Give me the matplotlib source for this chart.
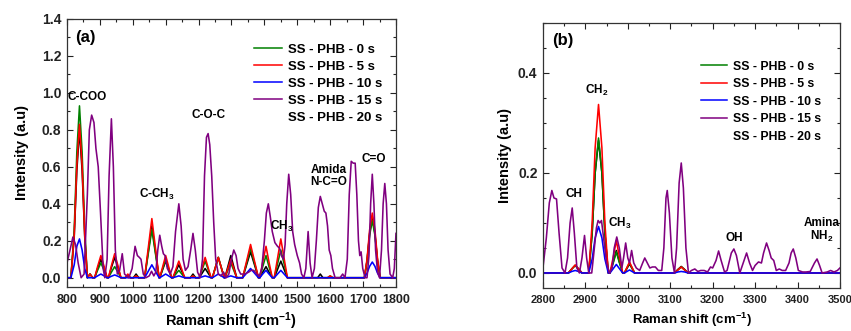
import matplotlib
matplotlib.use("Agg")
from matplotlib import pyplot as plt
from matplotlib.lines import Line2D
from matplotlib.ticker import MultipleLocator


# ---- panel (a): 800-1800 cm-1 ----
SHIFT_A = [
    800,
    812, 822, 830, 838, 846, 854, 862,
    870, 878,
    884, 893, 903, 913, 922,
    926, 935, 945, 955, 964,
    977, 985, 993,
    1002, 1010, 1018,
    1036, 1047, 1058, 1069, 1080,
    1082, 1091, 1100, 1109, 1118,
    1122, 1131, 1140, 1149, 1158,
    1175, 1183, 1191,
    1202, 1211, 1220, 1229, 1238,
    1242, 1251, 1260, 1269, 1278,
    1280, 1289, 1298, 1307, 1316,
    1334, 1346, 1358, 1370, 1382,
    1386, 1395, 1405, 1414, 1424,
    1430, 1440, 1450, 1460, 1470,
    1562, 1570, 1578,
    1592, 1600, 1608,
    1704, 1712, 1720, 1728, 1736, 1744, 1752,
    1800,
]
SS_0S_A = [
    0,
    0, .26, .68, .93, .68, .26, 0,
    .02, 0,
    0, .04, .08, .04, 0,
    0, .03, .06, .03, 0,
    0, .01, 0,
    0, .01, 0,
    0, .13, .26, .13, 0,
    0, .05, .10, .05, 0,
    0, .02, .04, .02, 0,
    0, .01, 0,
    0, .045, .09, .045, 0,
    0, .055, .11, .055, 0,
    0, .04, .08, .04, 0,
    0, .08, .16, .08, 0,
    0, .06, .12, .06, 0,
    0, .075, .15, .075, 0,
    0, 0, 0,
    0, .01, 0,
    0, .09, .23, .31, .23, .09, 0,
    0,
]
SS_5S_A = [
    0,
    0, .23, .61, .83, .61, .23, 0,
    .02, 0,
    0, .06, .12, .06, 0,
    0, .065, .13, .065, 0,
    0, .02, 0,
    0, .01, 0,
    0, .16, .32, .16, 0,
    0, .06, .12, .06, 0,
    0, .045, .09, .045, 0,
    0, .01, 0,
    0, .055, .11, .055, 0,
    0, .055, .11, .055, 0,
    0, .05, .10, .05, 0,
    0, .09, .18, .09, 0,
    0, .085, .17, .085, 0,
    0, .105, .21, .105, 0,
    0, 0, 0,
    0, .01, 0,
    0, .10, .26, .35, .26, .10, 0,
    0,
]
SS_10S_A = [
    0,
    0, .07, .17, .21, .15, .05, 0,
    0, 0,
    0, .01, .02, .01, 0,
    0, .008, .015, .008, 0,
    0, 0, 0,
    0, 0, 0,
    0, .035, .07, .035, 0,
    0, .01, .02, .01, 0,
    0, .005, .01, .005, 0,
    0, 0, 0,
    0, .005, .01, .005, 0,
    0, .01, .02, .01, 0,
    0, .005, .01, .005, 0,
    0, .025, .05, .025, 0,
    0, .02, .04, .02, 0,
    0, .02, .04, .02, 0,
    0, 0, 0,
    0, 0, 0,
    0, .025, .062, .085, .062, .025, 0,
    0,
]
SS_20S_A = [
    0,
    0, .22, .58, .80, .58, .22, 0,
    .02, 0,
    0, .05, .10, .05, 0,
    0, .055, .11, .055, 0,
    0, .01, 0,
    0, .02, 0,
    0, .14, .28, .14, 0,
    0, .045, .09, .045, 0,
    0, .035, .07, .035, 0,
    0, .02, 0,
    0, .025, .05, .025, 0,
    0, .055, .11, .055, 0,
    0, .06, .12, .06, 0,
    0, .07, .14, .07, 0,
    0, .03, .06, .03, 0,
    0, .045, .09, .045, 0,
    0, .02, 0,
    0, 0, 0,
    0, .09, .24, .33, .24, .09, 0,
    0,
]
SHIFT_15S_A = [
    800, 808, 818, 826, 834, 843, 852, 862, 868, 875, 882, 888, 895, 902, 910,
    915, 922, 928, 935, 941, 947, 953, 960, 968, 975, 988, 998, 1007, 1014, 1020,
    1025, 1032, 1040, 1050, 1057, 1064, 1070, 1076, 1082, 1088, 1093, 1098, 1105,
    1114, 1122, 1130, 1140, 1147, 1153, 1160, 1168, 1176, 1183, 1190, 1197, 1205,
    1212, 1218, 1224, 1229, 1234, 1240, 1246, 1252, 1260, 1268, 1276, 1284, 1292,
    1300, 1307, 1314, 1320, 1328, 1340, 1352, 1360, 1368, 1376, 1385, 1392, 1400,
    1406, 1412, 1418, 1424, 1432, 1440, 1446, 1452, 1458, 1463, 1468, 1474, 1480,
    1486, 1492, 1500, 1507, 1513, 1520, 1526, 1533, 1539, 1545, 1552, 1558, 1564,
    1570, 1576, 1582, 1587, 1592, 1597, 1602, 1607, 1615, 1630, 1638, 1645, 1652,
    1658, 1664, 1670, 1676, 1681, 1686, 1690, 1694, 1699, 1706, 1712, 1718, 1723,
    1728, 1733, 1738, 1744, 1750, 1756, 1761, 1766, 1771, 1776, 1782, 1790, 1795,
    1800,
]
SS_15S_A = [
    .08, .14, .22, .18, .08, 0, .02, .45, .80, .88, .84, .70, .60, .35, .05,
    0, .10, .55, .86, .60, .15, .02, .04, .13, .02, 0, .05, .17, .12, .11,
    .10, .02, 0, .01, .035, .01, .03, .15, .23, .17, .13, .12, .05,
    .02, .06, .25, .40, .28, .10, .04, .06, .15, .24, .15, .03, 0,
    .10, .55, .76, .78, .72, .55, .30, .10, .02, .01, .03, 0, .02,
    .10, .15, .12, .05, .02, .02, .03, .04, .04, .02, .01, .05, .20,
    .35, .40, .33, .25, .19, .17, .16, .12, .10, .18, .40, .56, .45,
    .25, .18, .12, .08, .02, 0, .05, .25, .08, 0, .05, .20, .38,
    .44, .40, .36, .35, .28, .15, .12, .05, 0, 0, .02, 0, .10,
    .45, .63, .62, .62, .45, .20, .12, .14, .05, 0, 0, .12, .40,
    .56, .40, .15, .03, 0, .15, .40, .51, .40, .15, .02, 0, .05,
    .24,
]

# ---- panel (b): 2800-3500 cm-1 ----
SHIFT_B = [
    2800,
    2860, 2868, 2876, 2884, 2892,
    2908, 2916, 2923, 2931, 2939, 2946, 2954,
    2958, 2966, 2973, 2980, 2988,
    2992, 2998, 3004, 3010, 3016,
    3110, 3118, 3126, 3134, 3142,
    3500,
]
SS_0S_B = [
    0,
    0, .008, .015, .008, 0,
    0, .08, .20, .27, .20, .08, 0,
    0, .021, .042, .021, 0,
    0, .01, .02, .01, 0,
    0, .006, .012, .006, 0,
    0,
]
SS_5S_B = [
    0,
    0, .008, .016, .008, 0,
    0, .10, .25, .337, .25, .10, 0,
    0, .033, .065, .033, 0,
    0, .011, .022, .011, 0,
    0, .006, .012, .006, 0,
    0,
]
SS_10S_B = [
    0,
    0, .003, .005, .003, 0,
    0, .028, .07, .093, .07, .028, 0,
    0, .009, .017, .009, 0,
    0, .003, .006, .003, 0,
    0, .002, .003, .002, 0,
    0,
]
SS_20S_B = [
    0,
    0, .008, .015, .008, 0,
    0, .08, .20, .265, .20, .08, 0,
    0, .023, .045, .023, 0,
    0, .009, .018, .009, 0,
    0, .007, .013, .007, 0,
    0,
]
SHIFT_15S_B = [
    2800, 2808, 2815, 2821, 2826, 2832, 2838, 2845, 2852, 2858, 2864, 2869, 2874,
    2880, 2886, 2892, 2898, 2903, 2908, 2915, 2920, 2926, 2930, 2934, 2938, 2943,
    2950, 2957, 2963, 2968, 2974, 2980, 2986, 2990, 2995, 3000, 3004, 3009, 3014,
    3020, 3028, 3035, 3040, 3046, 3052, 3058, 3065, 3072, 3080, 3085, 3090, 3093,
    3098, 3104, 3110, 3115, 3121, 3126, 3131, 3137, 3143, 3150, 3158, 3165, 3172,
    3180, 3188, 3195, 3200, 3208, 3214, 3220, 3228, 3234, 3244, 3250, 3256, 3264,
    3272, 3280, 3287, 3294, 3300, 3308, 3315, 3320, 3327, 3333, 3338, 3344, 3350,
    3357, 3364, 3372, 3380, 3385, 3390, 3396, 3402, 3412, 3420, 3430, 3440, 3446,
    3452, 3458, 3470, 3478, 3486, 3494, 3500,
]
SS_15S_B = [
    .01, .07, .14, .165, .15, .148, .08, .01, 0, .03, .10, .13, .08,
    .01, 0, .03, .075, .03, 0, 0, .04, .09, .105, .10, .105, .07,
    .02, 0, .01, .05, .072, .05, .01, .03, .06, .03, .02, .045, .02,
    .01, .005, .02, .03, .02, .01, .012, .012, .005, .005, .05, .15, .165,
    .12, .03, 0, .05, .18, .22, .17, .05, 0, .005, .008, .003, .005,
    .005, .002, .012, .01, .025, .044, .025, .002, .005, .04, .048, .035, 0,
    .02, .04, .02, .005, .015, .022, .02, .04, .06, .045, .03, .025, .005,
    .008, .005, .005, .02, .04, .048, .03, .005, .002, .002, .003, .02, .028,
    .015, 0, .002, .005, .002, .005, .01,
]

LEGEND_LABELS = ["SS - PHB - 0 s", "SS - PHB - 5 s", "SS - PHB - 10 s",
                 "SS - PHB - 15 s", "SS - PHB - 20 s"]
LEGEND_COLORS = ["#008000", "#ff0000", "#0000ff", "#800080", "none"]

PEAKS_A = [("C-COO", 860, 0.98), ("C-O-C", 1230, 0.88), ("C-CH$_3$", 1072, 0.45),
           ("CH$_3$", 1452, 0.28), ("Amida\nN-C=O", 1595, 0.55), ("C=O", 1732, 0.64)]
PEAKS_B = [("CH$_2$", 2927, 0.366), ("CH", 2872, 0.158), ("CH$_3$", 2982, 0.10),
           ("OH", 3250, 0.07), ("Amina\nNH$_2$", 3458, 0.085)]


def style_axes(ax, xtick_size, ytick_size):
    ax.tick_params(which="both", direction="in", top=True, right=True,
                   width=0.8, colors="#222222")
    ax.tick_params(which="major", length=4)
    ax.tick_params(which="minor", length=2)
    ax.tick_params(axis="x", labelsize=xtick_size, pad=5)
    ax.tick_params(axis="y", labelsize=ytick_size, pad=4)
    for label in ax.get_xticklabels() + ax.get_yticklabels():
        label.set_fontweight("bold")
    for spine in ax.spines.values():
        spine.set_linewidth(0.9)
        spine.set_color("#333333")


def draw_series(ax, shift, ss0, ss5, ss10, ss20, shift15, ss15):
    ax.plot(shift, ss20, color="black", lw=1.15)
    ax.plot(shift, ss0, color="#008000", lw=1.15)
    ax.plot(shift, ss5, color="#ff0000", lw=1.15)
    ax.plot(shift, ss10, color="#0000ff", lw=1.15)
    ax.plot(shift15, ss15, color="#800080", lw=1.15)


def add_legend(ax, anchor, size, spacing):
    handles = [Line2D([0], [0], color=c, lw=1.1) for c in LEGEND_COLORS]
    ax.legend(handles, LEGEND_LABELS, loc="upper right", bbox_to_anchor=anchor,
              frameon=False, borderpad=0, borderaxespad=0, handlelength=2.1,
              handletextpad=0.45, labelspacing=spacing,
              prop={"weight": "bold", "size": size})


def main() -> None:
    plt.rcParams["font.family"] = "Liberation Sans"
    plt.rcParams["font.weight"] = "bold"
    plt.rcParams["mathtext.fontset"] = "custom"
    plt.rcParams["mathtext.rm"] = "Liberation Sans:bold"
    plt.rcParams["mathtext.bf"] = "Liberation Sans:bold"
    plt.rcParams["mathtext.default"] = "rm"

    fig = plt.figure(figsize=(8.51, 3.31), dpi=100)
    fig.patch.set_facecolor("white")

    # panel (a)
    ax_a = fig.add_axes([0.0787, 0.133, 0.3866, 0.8096])
    draw_series(ax_a, SHIFT_A, SS_0S_A, SS_5S_A, SS_10S_A, SS_20S_A, SHIFT_15S_A, SS_15S_A)
    ax_a.set_xlim(800, 1800)
    ax_a.set_ylim(-0.05, 1.4)
    ax_a.xaxis.set_major_locator(MultipleLocator(100))
    ax_a.xaxis.set_minor_locator(MultipleLocator(50))
    ax_a.yaxis.set_major_locator(MultipleLocator(0.2))
    ax_a.yaxis.set_minor_locator(MultipleLocator(0.1))
    ax_a.yaxis.set_major_formatter(lambda v, _: f"{v:.1f}")
    style_axes(ax_a, 9, 10)
    ax_a.set_xlabel("Raman shift (cm$^{-1}$)", fontsize=10.5, weight="bold", labelpad=3.5)
    ax_a.set_ylabel("Intensity (a.u)", fontsize=10.5, weight="bold", labelpad=9)
    ax_a.text(824, 1.30, "(a)", fontsize=12, weight="bold", va="center", ha="left")
    for label, x, y in PEAKS_A:
        ax_a.text(x, y, label, fontsize=8.5, weight="bold", ha="center", va="center",
                  linespacing=1.05)
    add_legend(ax_a, (0.958, 0.908), 9.5, 0.36)

    # panel (b)
    ax_b = fig.add_axes([0.638, 0.130, 0.349, 0.8005])
    draw_series(ax_b, SHIFT_B, SS_0S_B, SS_5S_B, SS_10S_B, SS_20S_B, SHIFT_15S_B, SS_15S_B)
    ax_b.set_xlim(2800, 3500)
    ax_b.set_ylim(-0.03, 0.5)
    ax_b.xaxis.set_major_locator(MultipleLocator(100))
    ax_b.xaxis.set_minor_locator(MultipleLocator(50))
    ax_b.yaxis.set_major_locator(MultipleLocator(0.2))
    ax_b.yaxis.set_minor_locator(MultipleLocator(0.05))
    ax_b.yaxis.set_major_formatter(lambda v, _: f"{v:.1f}")
    style_axes(ax_b, 8, 10)
    ax_b.set_xlabel("Raman shift (cm$^{-1}$)", fontsize=9.5, weight="bold", labelpad=4)
    ax_b.set_ylabel("Intensity (a.u)", fontsize=10.5, weight="bold", labelpad=4)
    ax_b.text(2822, 0.465, "(b)", fontsize=12, weight="bold", va="center", ha="left")
    for label, x, y in PEAKS_B:
        ax_b.text(x, y, label, fontsize=8.5, weight="bold", ha="center", va="center",
                  linespacing=1.05)
    add_legend(ax_b, (0.935, 0.858), 8.8, 0.45)

    fig.savefig("out.png", dpi=100, facecolor="white")
    plt.close(fig)


if __name__ == "__main__":
    main()
